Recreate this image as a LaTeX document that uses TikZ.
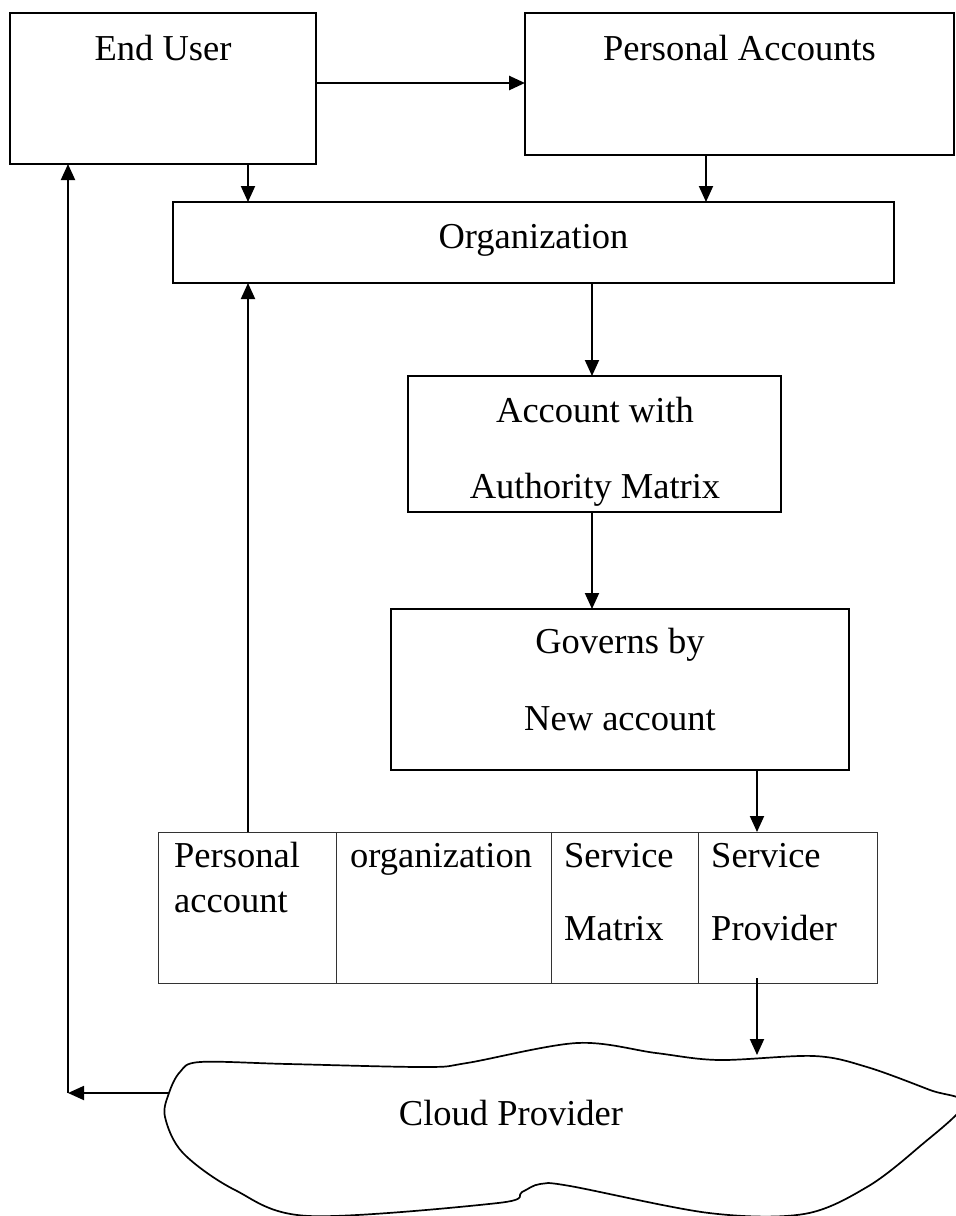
\documentclass[tikz,border=0pt]{standalone}
\usepackage{fontspec}
\setmainfont{Liberation Serif}
\usetikzlibrary{arrows.meta}
\begin{document}
\begin{tikzpicture}[x=1pt,y=-1pt,
  box/.style={draw=black, line width=1.9pt, rectangle, inner sep=0pt, outer sep=0pt},
  cell/.style={draw=black!80, line width=1pt, rectangle, inner sep=0pt, outer sep=0pt, minimum height=151pt},
  lbl/.style={anchor=base, inner sep=0pt, font=\fontsize{36.5}{44}\selectfont},
  llbl/.style={anchor=base west, inner sep=0pt, font=\fontsize{36.5}{44}\selectfont},
  arr/.style={line width=1.9pt, -{Triangle[length=16pt,width=14pt]}},
  cloudline/.style={draw=black, line width=1.7pt}]
\useasboundingbox (0,0) rectangle (956,1216);

% boxes
\node[box, minimum width=306pt, minimum height=151pt] (eu) at (163,88.5) {};
\node[box, minimum width=429pt, minimum height=142pt] (pa) at (739.5,84) {};
\node[box, minimum width=721pt, minimum height=81pt] (org) at (533.5,242.5) {};
\node[box, minimum width=373pt, minimum height=136pt] (acc) at (594.5,444) {};
\node[box, minimum width=458pt, minimum height=161pt] (gov) at (620,689.5) {};

% box labels
\node[lbl] (eut) at (163,60) {End User};
\node[lbl] (pat) at (739.5,60) {Personal Accounts};
\node[lbl] (orgt) at (533.5,248) {Organization};
\node[lbl] (acct1) at (595,422) {Account with};
\node[lbl] (acct2) at (595,498) {Authority Matrix};
\node[lbl] (govt1) at (620,653) {Governs by};
\node[lbl] (govt2) at (620,730) {New account};

% table row
\node[cell, minimum width=178pt] (t1) at (247,907.5) {};
\node[cell, minimum width=215pt] (t2) at (443.5,907.5) {};
\node[cell, minimum width=147pt] (t3) at (624.5,907.5) {};
\node[cell, minimum width=179pt] (t4) at (787.5,907.5) {};
\node[llbl] (t1a) at (174,867) {Personal};
\node[llbl] (t1b) at (174,912) {account};
\node[llbl] (t2a) at (350,867) {organization};
\node[llbl] (t3a) at (564,867) {Service};
\node[llbl] (t3b) at (564,940) {Matrix};
\node[llbl] (t4a) at (711,867) {Service};
\node[llbl] (t4b) at (711,940) {Provider};

% cloud
\draw[cloudline] plot[smooth cycle, tension=0.55] coordinates {
  (169,1093) (180,1072) (200,1062) (288,1064) (425,1067) (467,1063)
  (577,1043) (656,1053) (719,1060) (814,1056) (867,1067) (930,1090)
  (964,1104) (919,1147) (867,1187) (804,1214) (709,1213) (570,1186)
  (540,1184) (522,1192) (498,1203) (309,1216) (235,1190) (183,1153)
  (165,1117)};
\node[lbl] (cloudt) at (511,1125) {Cloud Provider};
\coordinate (cloudtop) at (757,1055);
\coordinate (cloudleft) at (169,1093);
\coordinate (corner) at (68,1093);

% connector guides
\coordinate (r83) at (0,83);
\coordinate (x248) at (248,0);
\coordinate (x706) at (706,0);
\coordinate (x592) at (592,0);
\coordinate (x757) at (757,0);

% connectors
\draw[arr, line width=2.6pt] (eu.east |- r83) -- (pa.west |- r83);
\draw[arr] (eu.south -| x248) -- (org.north -| x248);
\draw[arr] (pa.south -| x706) -- (org.north -| x706);
\draw[arr] (org.south -| x592) -- (acc.north -| x592);
\draw[arr] (acc.south -| x592) -- (gov.north -| x592);
\draw[arr] (gov.south -| x757) -- (t4.north -| x757);
\draw[arr] (t1.north -| x248) -- (org.south -| x248);
\draw[arr] ([yshift=5pt]t4.south -| x757) -- (cloudtop);
\draw[arr] (cloudleft) -- (corner);
\draw[arr] (corner) -- (eu.south -| corner);
\end{tikzpicture}
\end{document}
